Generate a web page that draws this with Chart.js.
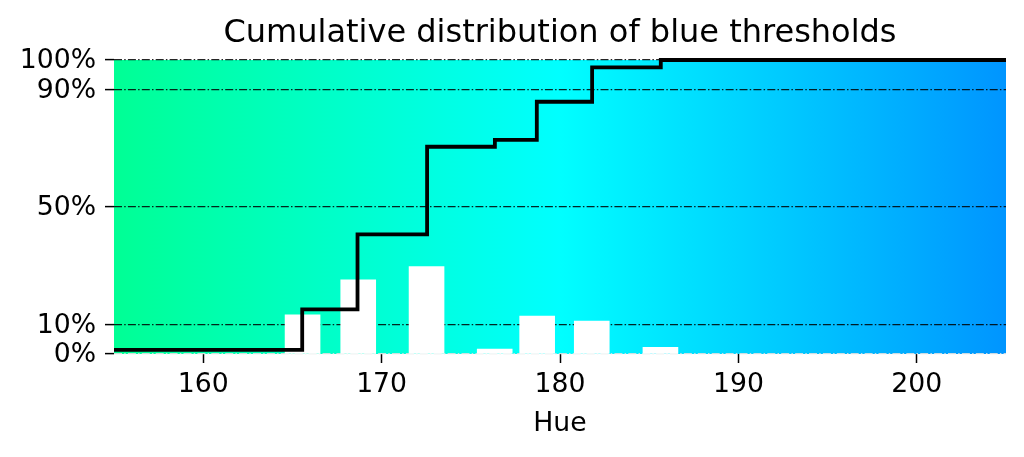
<!DOCTYPE html>
<html>
<head>
<meta charset="utf-8">
<script src="https://cdn.jsdelivr.net/npm/chart.js@4.4.1/dist/chart.umd.min.js"></script>
<style>
  html, body { margin: 0; padding: 0; background: #fff; }
  #wrap { width: 1024px; height: 457px; }
</style>
</head>
<body>
<div id="wrap"><canvas id="c" width="1024" height="457"></canvas></div>
<script>
// ---- data ----
const hueRange = [155, 205];
const xTicks = [160, 170, 180, 190, 200];
const yTicks = [0, 10, 50, 90, 100];
const stepHues = [155, 165.55, 168.65, 172.55, 176.35, 178.7, 181.8, 185.65, 205];
const cdfPercent = [1.4, 15.2, 40.7, 70.5, 72.8, 85.8, 97.5, 100, 100];
const barHues = [165.57, 168.69, 172.52, 176.34, 178.72, 181.78, 185.63];
const barPercent = [13.3, 25.2, 29.7, 1.7, 12.9, 11.2, 2.3];
const barWidthHue = 1.96;
const titleText = 'Cumulative distribution of blue thresholds';
const xTitle = 'Hue';

const FONT = 'DejaVu Sans';
const TICK_SIZE = 26.7;
const TITLE_SIZE = 32;

const hueBackground = {
  id: 'hueBackground',
  beforeDraw(chart) {
    const {ctx, chartArea: a, scales: {x}} = chart;
    const g = ctx.createLinearGradient(a.left, 0, a.right, 0);
    for (let h = hueRange[0]; h <= hueRange[1]; h++) {
      const off = (x.getPixelForValue(h) - a.left) / (a.right - a.left);
      g.addColorStop(Math.min(1, Math.max(0, off)), `hsl(${h},100%,50%)`);
    }
    ctx.save();
    ctx.fillStyle = g;
    ctx.fillRect(a.left, a.top, a.right - a.left, a.bottom - a.top);
    ctx.restore();
  }
};

const chart = new Chart(document.getElementById('c'), {
  type: 'line',
  data: {
    datasets: [
      {
        type: 'bar',
        data: barHues.map((h, i) => ({x: h, y: barPercent[i]})),
        backgroundColor: '#ffffff',
        borderWidth: 0,
        barThickness: 35,
        order: 2
      },
      {
        type: 'line',
        data: stepHues.map((h, i) => ({x: h, y: cdfPercent[i]})),
        borderColor: '#000000',
        borderWidth: 3.8,
        pointRadius: 0,
        stepped: 'before',
        fill: false,
        clip: false,
        order: 1
      }
    ]
  },
  plugins: [hueBackground],
  options: {
    responsive: false,
    animation: false,
    devicePixelRatio: 1,
    layout: { padding: { left: 0, right: 18, top: 0, bottom: 0 } },
    plugins: {
      legend: { display: false },
      tooltip: { enabled: false },
      title: {
        display: true,
        fullSize: false,
        text: titleText,
        color: '#000',
        font: { family: FONT, size: TITLE_SIZE, weight: 'normal', lineHeight: 1.2 },
        padding: { top: 14.3, bottom: 7.3 }
      }
    },
    scales: {
      x: {
        type: 'linear',
        min: hueRange[0],
        max: hueRange[1],
        offset: false,
        afterBuildTicks: s => { s.ticks = xTicks.map(v => ({value: v})); },
        afterFit: s => { s.height = 103; },
        border: { display: false },
        grid: {
          display: true,
          offset: false,
          drawOnChartArea: false,
          drawTicks: true,
          tickLength: 9,
          tickColor: '#000',
          tickWidth: 1.5
        },
        ticks: {
          color: '#000',
          padding: 6,
          maxRotation: 0,
          font: { family: FONT, size: TICK_SIZE }
        },
        title: {
          display: true,
          text: xTitle,
          color: '#000',
          font: { family: FONT, size: TICK_SIZE, lineHeight: 1.2 },
          padding: { top: 0, bottom: 17 }
        }
      },
      y: {
        type: 'linear',
        min: 0,
        max: 100,
        z: 1,
        afterBuildTicks: s => { s.ticks = yTicks.map(v => ({value: v})); },
        afterFit: s => { s.width = 114; },
        border: { display: false, dash: [8, 2.2, 1.5, 2.2] },
        grid: {
          display: true,
          drawOnChartArea: true,
          drawTicks: true,
          tickLength: 9,
          tickColor: '#000',
          tickWidth: 1.5,
          tickBorderDash: [],
          lineWidth: 1.2,
          color: c => (c.tick && c.tick.value === 0) ? 'rgba(225,225,225,0.9)' : 'rgba(0,0,0,0.85)'
        },
        ticks: {
          color: '#000',
          padding: 9,
          labelOffset: 1.5,
          font: { family: FONT, size: TICK_SIZE },
          callback: v => v + '%'
        }
      }
    }
  }
});

// bar width in hue units -> pixels via the x scale
const xs = chart.scales.x;
chart.data.datasets[0].barThickness =
  xs.getPixelForValue(barHues[0] + barWidthHue / 2) - xs.getPixelForValue(barHues[0] - barWidthHue / 2);
chart.update();
</script>
</body>
</html>
